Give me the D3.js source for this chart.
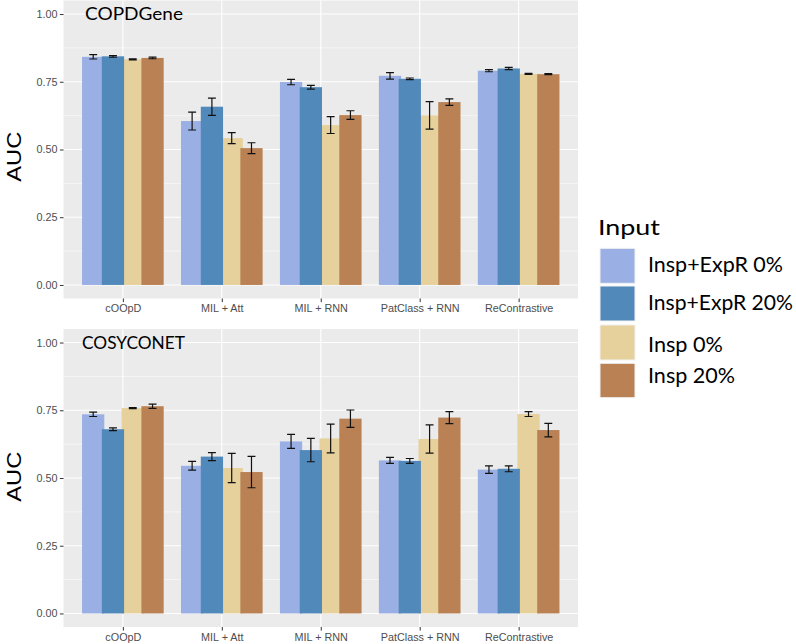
<!DOCTYPE html>
<html><head><meta charset="utf-8">
<script src="https://cdn.jsdelivr.net/npm/d3@7"></script>
<style>body{margin:0;background:#fff}svg{display:block}</style>
</head><body>
<script>
const categories = ["cOOpD", "MIL + Att", "MIL + RNN", "PatClass + RNN", "ReContrastive"];
const series = ["Insp+ExpR 0%", "Insp+ExpR 20%", "Insp 0%", "Insp 20%"];
const colors = ["#9AAFE3", "#5289BB", "#E6D19C", "#B98154"];
const yTicks = [0, 0.25, 0.5, 0.75, 1.0];
const yMinor = [0.125, 0.375, 0.625, 0.875];

// COPDGene: values per series (rows) x categories (cols)
const copdMean = [
  [0.842, 0.605, 0.749, 0.772, 0.791],
  [0.844, 0.658, 0.730, 0.761, 0.799],
  [0.833, 0.542, 0.590, 0.626, 0.779],
  [0.838, 0.505, 0.627, 0.675, 0.778]
];
const copdErr = [
  [0.008, 0.033, 0.010, 0.012, 0.004],
  [0.003, 0.032, 0.007, 0.003, 0.004],
  [0.002, 0.020, 0.031, 0.051, 0.002],
  [0.003, 0.020, 0.016, 0.012, 0.002]
];
// COSYCONET
const cosyMean = [
  [0.735, 0.545, 0.635, 0.565, 0.531],
  [0.680, 0.579, 0.603, 0.563, 0.534],
  [0.758, 0.537, 0.646, 0.644, 0.736],
  [0.765, 0.522, 0.719, 0.723, 0.677]
];
const cosyErr = [
  [0.008, 0.016, 0.026, 0.011, 0.014],
  [0.005, 0.015, 0.043, 0.009, 0.011],
  [0.002, 0.054, 0.053, 0.052, 0.009],
  [0.008, 0.058, 0.032, 0.022, 0.025]
];
const panelTitles = ["COPDGene", "COSYCONET"];

const W = 796, H = 644;
const svg = d3.select("body").append("svg").attr("width", W).attr("height", H);

const x = d3.scaleLinear().domain([0.4, 5.6]).range([63.5, 578]);
const dodge = d3.scalePoint().domain(series).range([-0.3, 0.3]);
const barW = 0.225;
const capW = 0.08;
const drawOrder = [0, 2, 1, 3];

const panels = [
  {mean: copdMean, err: copdErr, top: 0.5, bottom: 298.5, title: panelTitles[0], tx: 85, ty: 20, tl: 98, auc: 156.7},
  {mean: cosyMean, err: cosyErr, top: 329, bottom: 627, title: panelTitles[1], tx: 82, ty: 349.3, tl: 103, auc: 476.7}
];

panels.forEach(p => {
  const y = d3.scaleLinear().domain([-0.05, 1.05]).range([p.bottom, p.top]);
  const g = svg.append("g");
  g.append("rect").attr("x", x.range()[0]).attr("y", p.top)
    .attr("width", x.range()[1] - x.range()[0]).attr("height", p.bottom - p.top)
    .attr("fill", "#EBEBEB");
  g.selectAll(".minor").data(yMinor).join("line")
    .attr("x1", x.range()[0]).attr("x2", x.range()[1])
    .attr("y1", d => y(d)).attr("y2", d => y(d))
    .attr("stroke", "#fff").attr("stroke-width", 0.55);
  g.selectAll(".major").data(yTicks).join("line")
    .attr("x1", x.range()[0]).attr("x2", x.range()[1])
    .attr("y1", d => y(d)).attr("y2", d => y(d))
    .attr("stroke", "#fff").attr("stroke-width", 1.1);
  g.selectAll(".vmajor").data(categories).join("line")
    .attr("x1", (d, i) => x(i + 1)).attr("x2", (d, i) => x(i + 1))
    .attr("y1", p.top).attr("y2", p.bottom)
    .attr("stroke", "#fff").attr("stroke-width", 1.1);

  drawOrder.forEach(si => {
    const s = series[si];
    g.append("g").selectAll("rect").data(categories).join("rect")
      .attr("x", (d, ci) => x(ci + 1 + dodge(s) - barW / 2))
      .attr("width", x(barW) - x(0))
      .attr("y", (d, ci) => y(p.mean[si][ci]))
      .attr("height", (d, ci) => y(0) - y(p.mean[si][ci]))
      .attr("fill", colors[si]);
  });
  series.forEach((s, si) => {
    const eg = g.append("g").attr("stroke", "#111").attr("stroke-width", 1.2).attr("fill", "none");
    categories.forEach((c, ci) => {
      const cx = ci + 1 + dodge(s);
      const lo = p.mean[si][ci] - p.err[si][ci], hi = p.mean[si][ci] + p.err[si][ci];
      eg.append("path").attr("d",
        `M${x(cx - capW / 2)},${y(hi)}H${x(cx + capW / 2)}` +
        `M${x(cx)},${y(hi)}V${y(lo)}` +
        `M${x(cx - capW / 2)},${y(lo)}H${x(cx + capW / 2)}`);
    });
  });

  const yAxis = d3.axisLeft(y).tickValues(yTicks).tickFormat(d3.format(".2f")).tickSize(3.6).tickPadding(2.5);
  const ya = g.append("g").attr("transform", `translate(${x.range()[0]},0)`).call(yAxis);
  ya.select(".domain").remove();
  ya.selectAll("line").attr("stroke", "#333");
  ya.selectAll("text").attr("fill", "#4D4D4D").style("font-family", "'Liberation Sans', Arial, sans-serif").style("font-size", "10.8px");

  const xAxis = d3.axisBottom(d3.scalePoint().domain(categories).range([x(1), x(5)])).tickSize(3.6).tickPadding(2.5);
  const xa = g.append("g").attr("transform", `translate(0,${p.bottom})`).call(xAxis);
  xa.select(".domain").remove();
  xa.selectAll("line").attr("stroke", "#333");
  xa.selectAll("text").attr("fill", "#4D4D4D").style("font-family", "'Liberation Sans', Arial, sans-serif").style("font-size", "10.8px");

  svg.append("text").attr("transform", `translate(21,${p.auc}) rotate(-90)`)
    .attr("text-anchor", "middle")
    .style("font-family", "'Liberation Sans', Arial, sans-serif").style("font-size", "21px")
    .attr("textLength", 50).attr("lengthAdjust", "spacingAndGlyphs")
    .text("AUC");
  svg.append("text").attr("x", p.tx).attr("y", p.ty)
    .style("font-family", "Lato, 'Open Sans', sans-serif").style("font-size", "18px")
    .attr("textLength", p.tl).attr("lengthAdjust", "spacingAndGlyphs")
    .text(p.title);
});

const leg = svg.append("g");
leg.append("text").attr("x", 598).attr("y", 235)
  .style("font-family", "Lato, 'Open Sans', sans-serif").style("font-size", "22px")
  .attr("textLength", 62).attr("lengthAdjust", "spacingAndGlyphs")
  .text("Input");
const swY = [248.3, 286, 325, 363.3];
const swH = [35, 35, 35, 34.4];
const labY = [271.7, 310, 351.7, 383.3];
const labW = [135, 145, 75, 87];
series.forEach((s, i) => {
  leg.append("rect").attr("x", 600).attr("y", swY[i]).attr("width", 35).attr("height", swH[i])
    .attr("fill", colors[i]).attr("stroke", "#f2f2f2").attr("stroke-width", 1);
  leg.append("text").attr("x", 648).attr("y", labY[i])
    .style("font-family", "Lato, 'Open Sans', sans-serif").style("font-size", "21px")
    .attr("textLength", labW[i]).attr("lengthAdjust", "spacingAndGlyphs")
    .text(s);
});
</script>
</body></html>
